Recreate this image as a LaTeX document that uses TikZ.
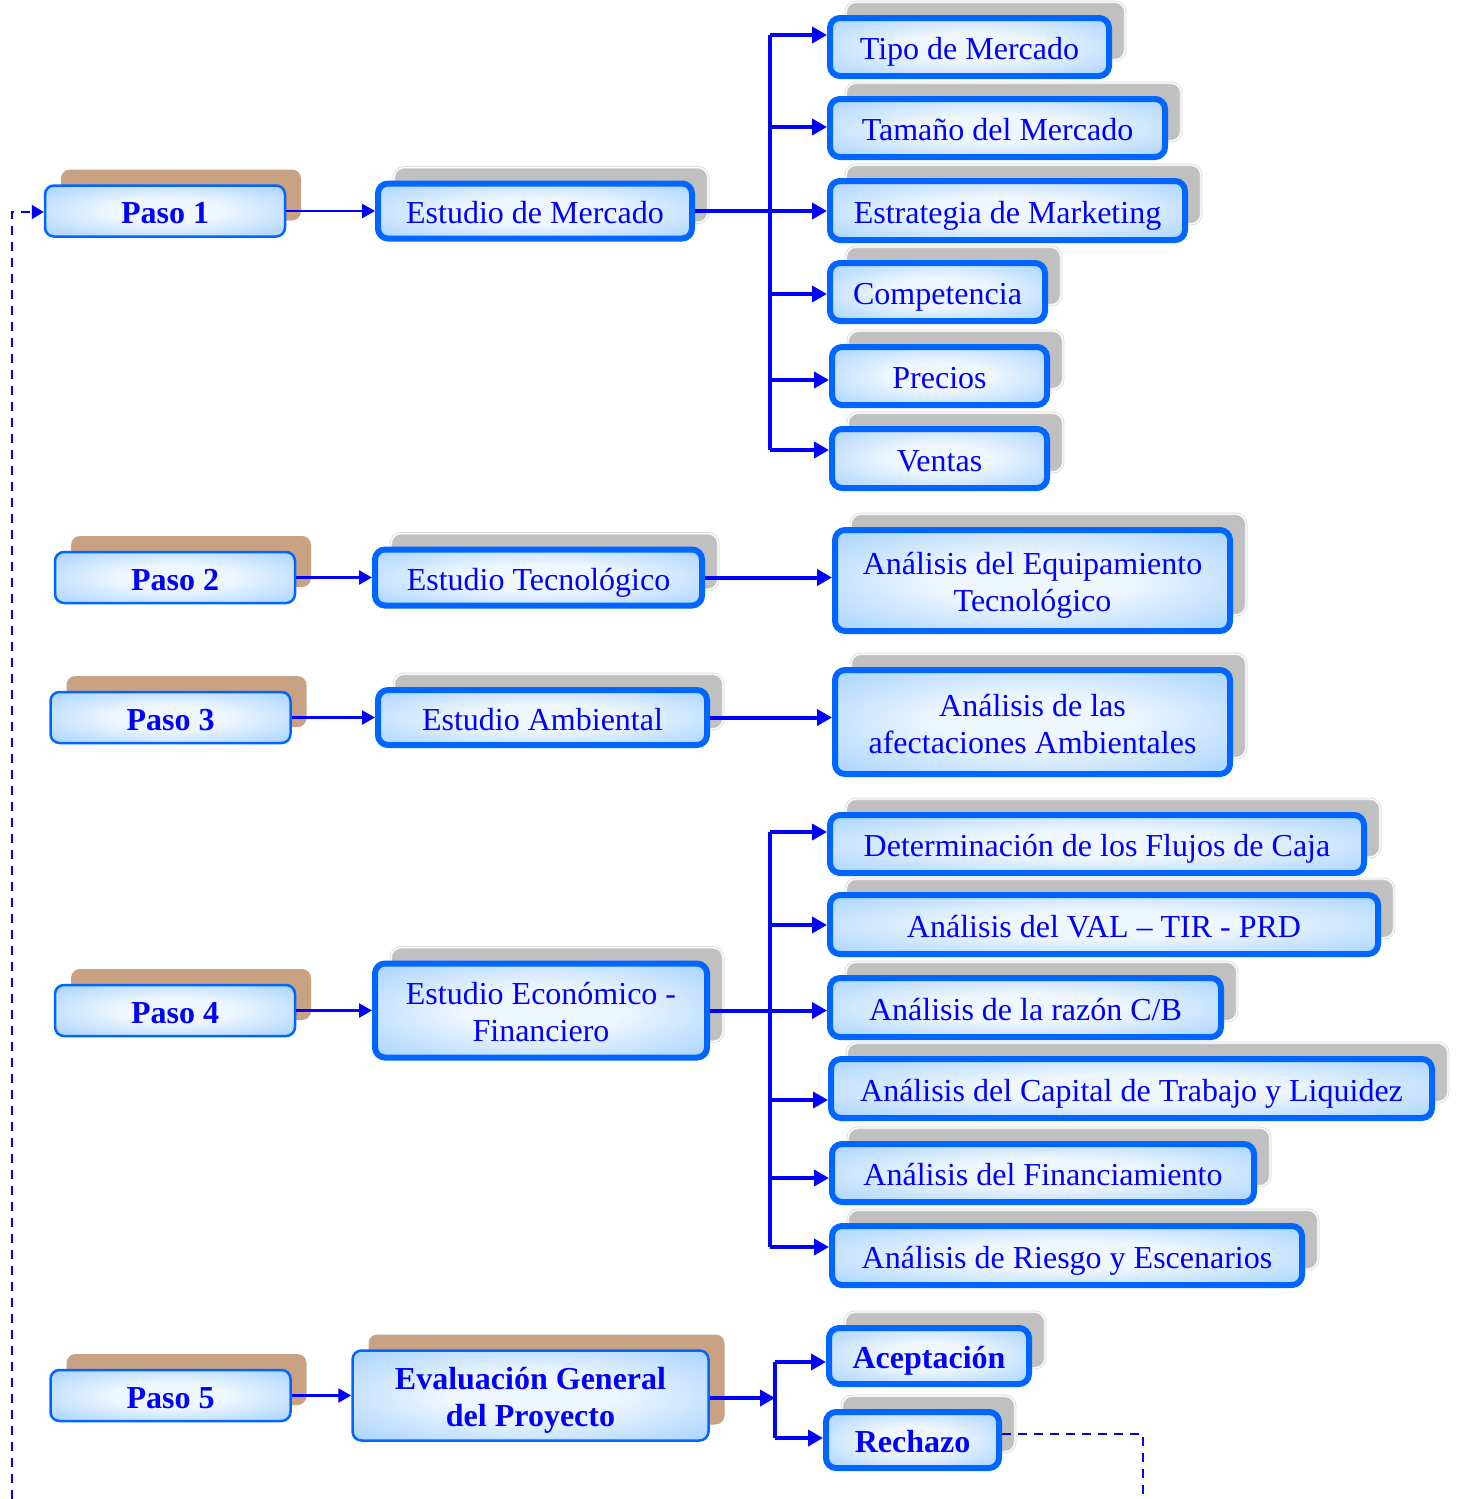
\documentclass[tikz,border=0pt]{standalone}
\usepackage{fontspec}
\setmainfont{Liberation Serif}
\usetikzlibrary{arrows.meta,shadows,calc}

\definecolor{textblue}{HTML}{0000FF}
\definecolor{boxline}{HTML}{0066FF}
\definecolor{arrowblue}{HTML}{0000FF}
\definecolor{glowin}{HTML}{EEF6FF}
\definecolor{glowout}{HTML}{99CCFF}
\definecolor{brownshadow}{HTML}{C8A283}
\definecolor{grayshadow}{HTML}{C0C0C0}
\definecolor{grayline}{HTML}{D6D6D6}

\pgfdeclareradialshading{boxglow}{\pgfpoint{0bp}{0bp}}{color(0bp)=(glowin); color(12bp)=(glowin); color(40bp)=(glowout); color(50bp)=(glowout)}

\newcommand{\boxfont}{\fontsize{32}{37}\selectfont}

\tikzset{
	paso/.style={draw=boxline, line width=2.5pt, rounded corners=9pt, shade, shading=boxglow,
		text=textblue, font=\boxfont\bfseries, align=center, minimum width=240pt, minimum height=51pt,
		text height=32pt, text depth=7pt,
		general shadow={fill=brownshadow, draw=none, shadow xshift=16pt, shadow yshift=16pt}},
	estudio/.style={draw=boxline, line width=6pt, rounded corners=10pt, shade, shading=boxglow,
		text=textblue, font=\boxfont, align=center, text height=32pt, text depth=7pt,
		general shadow={fill=grayshadow, draw=grayline, double=white, double distance=1.2pt,
			line width=0.8pt, shadow xshift=16pt, shadow yshift=16pt}},
	tema/.style={estudio, anchor=west},
	dos/.style={text height=69pt, text depth=7pt},
	arr/.style={draw=arrowblue, line width=4pt, -{Triangle[length=15pt,width=16pt]}},
	thinarr/.style={draw=arrowblue, line width=2.5pt, -{Triangle[length=13pt,width=14pt]}},
	ret/.style={draw=arrowblue, line width=1.8pt, dash pattern=on 9pt off 7pt}
}

\begin{document}
\begin{tikzpicture}[x=1pt, y=-1pt]
		\useasboundingbox (0,0) rectangle (1458,1499);
		\node (paso1) [paso] at (165,211) {Paso 1};
		\node (paso2) [paso] at (175,577.5) {Paso 2};
		\node (paso3) [paso] at (170.5,717.5) {Paso 3};
		\node (paso4) [paso] at (175,1010.5) {Paso 4};
		\node (paso5) [paso] at (170.5,1395.5) {Paso 5};
		\node (merc) [estudio, minimum width=314pt, minimum height=55pt, node distance = 370pt] [right of = paso1] {Estudio de Mercado};
		\node (tecno) [estudio, minimum width=327pt, minimum height=56pt, node distance = 363.5pt] [right of = paso2] {Estudio Tecnológico};
		\node (amb) [estudio, minimum width=329pt, minimum height=55pt, node distance = 372pt] [right of = paso3] {Estudio Ambiental};
		\node (econ) [estudio, dos, minimum width=332pt, minimum height=94pt, node distance = 366pt] [right of = paso4] {Estudio Económico -\\Financiero};
		\node (eval) [paso, dos, minimum width=356pt, minimum height=90pt, node distance = 360pt] [right of = paso5] {Evaluación General\\del Proyecto};
		\node (tipo) [tema, minimum width=279pt, minimum height=58pt] at (827,47) {Tipo de Mercado};
		\node (tam) [tema, minimum width=335pt, minimum height=58pt] at (827,128) {Tamaño del Mercado};
		\node (estr) [tema, minimum width=355pt, minimum height=59pt] at (827,210.5) {Estrategia de Marketing};
		\node (comp) [tema, minimum width=215pt, minimum height=58pt] at (827,292) {Competencia};
		\node (prec) [tema, minimum width=215pt, minimum height=58pt] at (829,376) {Precios};
		\node (vent) [tema, minimum width=215pt, minimum height=59pt] at (829,458.5) {Ventas};
		\node (equip) [tema, dos, minimum width=395pt, minimum height=101pt] at (832,580.5) {Análisis del Equipamiento\\Tecnológico};
		\node (afec) [tema, dos, minimum width=395pt, minimum height=104pt] at (832,722) {Análisis de las\\afectaciones Ambientales};
		\node (flujo) [tema, minimum width=534pt, minimum height=58pt] at (827,844) {Determinación de los Flujos de Caja};
		\node (val) [tema, minimum width=548pt, minimum height=59pt] at (827,924.5) {Análisis del VAL – TIR - PRD};
		\node (razon) [tema, minimum width=391pt, minimum height=59pt] at (827,1007.5) {Análisis de la razón C/B};
		\node (capi) [tema, minimum width=601pt, minimum height=59pt] at (828,1088.5) {Análisis del Capital de Trabajo y Liquidez};
		\node (finan) [tema, minimum width=422pt, minimum height=58pt] at (829,1173) {Análisis del Financiamiento};
		\node (riesgo) [tema, minimum width=470pt, minimum height=59pt] at (829,1255.5) {Análisis de Riesgo y Escenarios};
		\node (acep) [tema, font=\boxfont\bfseries, minimum width=200pt, minimum height=56pt] at (826,1356) {Aceptación};
		\node (rech) [tema, font=\boxfont\bfseries, minimum width=173pt, minimum height=56pt] at (823,1440) {Rechazo};
		\coordinate (m1) at (770,35);
		\coordinate (m2) at (770,127);
		\coordinate (m4) at (770,294);
		\coordinate (m5) at (770,380);
		\coordinate (m6) at (770,450);
		\coordinate (f1) at (770,832);
		\coordinate (f2) at (770,925);
		\coordinate (f4) at (770,1100);
		\coordinate (f5) at (770,1178);
		\coordinate (f6) at (770,1247);
		\coordinate (e0) at (775,1398);
		\coordinate (e1) at (775,1362);
		\coordinate (e2) at (775,1438);
		\coordinate (r1) at (1143,1434);
		\coordinate (r2) at (1143,1499);
		\coordinate (l1) at (12,1499);
		\coordinate (l2) at (12,212);
		\draw [thinarr] (paso1.east) -- (paso1.east -| merc.west);
		\draw [thinarr] (paso2.east) -- (paso2.east -| tecno.west);
		\draw [thinarr] (paso3.east) -- (paso3.east -| amb.west);
		\draw [thinarr] (paso4.east) -- (paso4.east -| econ.west);
		\draw [thinarr] (paso5.east) -- (paso5.east -| eval.west);
		\draw [draw=arrowblue, line width=4pt] (m1) -- (m6);
		\draw [arr] (m1) -- (m1 -| tipo.west);
		\draw [arr] (m2) -- (m2 -| tam.west);
		\draw [arr] (merc.east) -- (merc.east -| estr.west);
		\draw [arr] (m4) -- (m4 -| comp.west);
		\draw [arr] (m5) -- (m5 -| prec.west);
		\draw [arr] (m6) -- (m6 -| vent.west);
		\draw [arr] (tecno.east) -- (tecno.east -| equip.west);
		\draw [arr] (amb.east) -- (amb.east -| afec.west);
		\draw [draw=arrowblue, line width=4pt] (f1) -- (f6);
		\draw [arr] (f1) -- (f1 -| flujo.west);
		\draw [arr] (f2) -- (f2 -| val.west);
		\draw [arr] (econ.east) -- (econ.east -| razon.west);
		\draw [arr] (f4) -- (f4 -| capi.west);
		\draw [arr] (f5) -- (f5 -| finan.west);
		\draw [arr] (f6) -- (f6 -| riesgo.west);
		\draw [arr] (eval.east |- e0) -- (e0);
		\draw [draw=arrowblue, line width=4pt] (e1) -- (e2);
		\draw [arr] (e1) -- (e1 -| acep.west);
		\draw [arr] (e2) -- (e2 -| rech.west);
		\draw [ret] (r1 -| rech.east) -- (r1) -- (r2);
		\draw [ret, -{Triangle[length=12pt,width=14pt]}] (l1) -- (l2) -- (l2 -| paso1.west);
\end{tikzpicture}
\end{document}
